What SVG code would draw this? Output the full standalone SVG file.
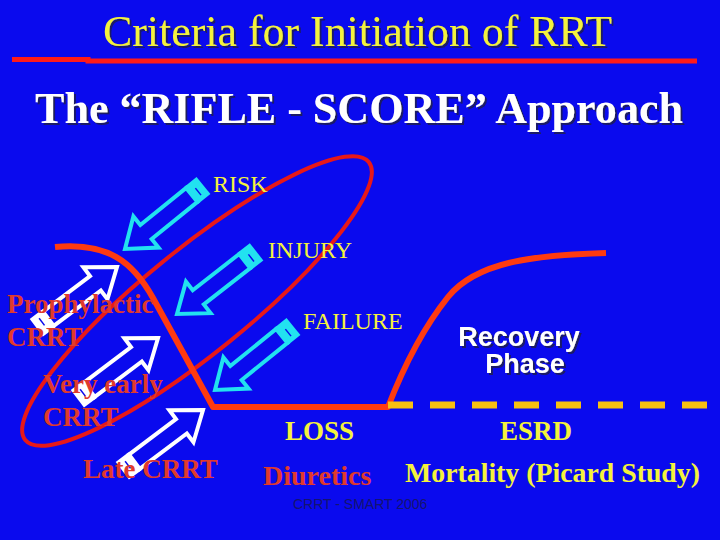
<svg xmlns="http://www.w3.org/2000/svg" xmlns:xlink="http://www.w3.org/1999/xlink" width="720" height="540" viewBox="0 0 720 540">
  <style>
    .serif { font-family: "Liberation Serif", "Times New Roman", serif; }
    .sans { font-family: "Liberation Sans", Arial, sans-serif; }
    .yl { fill: #F4F23C; }
    .rd { fill: #E03A2C; font-weight: bold; }
    .lbl { font-size: 24px; }
    .big { font-size: 27px; font-weight: bold; }
  </style>
  <defs>
    <filter id="shadow" x="-5%" y="-20%" width="115%" height="150%">
      <feFlood flood-color="#1A1A66" result="c"/>
      <feComposite in="c" in2="SourceAlpha" operator="in" result="s"/>
      <feOffset in="s" dx="2" dy="2" result="o"/>
      <feMerge><feMergeNode in="o"/><feMergeNode in="SourceGraphic"/></feMerge>
    </filter>
    <g id="arrowC">
      <path d="M-86,-9 L-27,-9 L-27,-20 L0,0 L-27,20 L-27,9 L-86,9 Z" fill="none" stroke="#22E2F0" stroke-width="4" stroke-linejoin="miter"/>
      <rect x="-101" y="-11" width="16" height="22" fill="#22E2F0"/>
      <line x1="-93" y1="-6" x2="-93" y2="3" stroke="#0A0AEE" stroke-width="1.5"/>
    </g>
    <g id="arrowW">
      <path d="M-86,-9 L-27,-9 L-27,-20 L0,0 L-27,20 L-27,9 L-86,9 Z" fill="none" stroke="#FFFFFF" stroke-width="4" stroke-linejoin="miter"/>
      <rect x="-101" y="-11" width="16" height="22" fill="#FFFFFF"/>
      <line x1="-93" y1="-6" x2="-93" y2="3" stroke="#0A0AEE" stroke-width="1.5"/>
    </g>
  </defs>

  <rect x="0" y="0" width="720" height="540" fill="#0A0AEE"/>

  <g id="title">
    <text x="103" y="46" class="serif yl" font-size="44" textLength="509" lengthAdjust="spacingAndGlyphs" filter="url(#shadow)">Criteria for Initiation of RRT</text>
    <path d="M12,59.5 L88,59.5 L88,61 L697,61" fill="none" stroke="#FF1A1A" stroke-width="5"/>
  </g>

  <g id="subtitle">
    <text x="35" y="123" class="serif" fill="#FFFFFF" font-size="44" font-weight="bold" textLength="648" lengthAdjust="spacingAndGlyphs" filter="url(#shadow)">The “RIFLE - SCORE” Approach</text>
  </g>

  <g id="connectors">
    <ellipse cx="197" cy="301" rx="221" ry="52" transform="rotate(-39 197 301)" fill="none" stroke="#E81818" stroke-width="4"/>
    <path d="M55,247 C108,242 133,262 153,298 L213,407 L388,407 C400,376 420,332 448,297 C478,260 540,255 606,253" fill="none" stroke="#FF3A10" stroke-width="6" stroke-linejoin="round"/>
    <line x1="388" y1="405" x2="720" y2="405" stroke="#F8C010" stroke-width="7" stroke-dasharray="25 17"/>
  </g>

  <g id="arrows">
    <use xlink:href="#arrowC" transform="translate(125,249) rotate(141)"/>
    <use xlink:href="#arrowC" transform="translate(177,314) rotate(142)"/>
    <use xlink:href="#arrowC" transform="translate(215,390) rotate(141)"/>
    <use xlink:href="#arrowW" transform="translate(117,267) rotate(-37)"/>
    <use xlink:href="#arrowW" transform="translate(158,338) rotate(-37)"/>
    <use xlink:href="#arrowW" transform="translate(203,410) rotate(-37)"/>
  </g>

  <g id="risk"><text x="213" y="192" class="serif yl lbl">RISK</text></g>
  <g id="injury"><text x="268" y="258" class="serif yl lbl">INJURY</text></g>
  <g id="failure"><text x="303" y="329" class="serif yl lbl">FAILURE</text></g>
  <g id="loss"><text x="285" y="440" class="serif yl big">LOSS</text></g>
  <g id="esrd"><text x="500" y="440" class="serif yl big">ESRD</text></g>

  <g id="recovery" filter="url(#shadow)">
    <text x="519" y="346" class="sans" fill="#FFFFFF" font-size="27" font-weight="bold" text-anchor="middle">Recovery</text>
    <text x="525" y="373" class="sans" fill="#FFFFFF" font-size="27" font-weight="bold" text-anchor="middle">Phase</text>
  </g>

  <g id="prophylactic">
    <text x="7" y="313" class="serif rd" font-size="27">Prophylactic</text>
    <text x="7" y="346" class="serif rd" font-size="27">CRRT</text>
  </g>
  <g id="very-early">
    <text x="43" y="393" class="serif rd" font-size="27">Very early</text>
    <text x="43" y="426" class="serif rd" font-size="27">CRRT</text>
  </g>
  <g id="late">
    <text x="83" y="478" class="serif rd" font-size="27">Late CRRT</text>
  </g>
  <g id="diuretics">
    <text x="263" y="485" class="serif rd" font-size="28">Diuretics</text>
  </g>
  <g id="mortality">
    <text x="405" y="482" class="serif yl" font-size="28" font-weight="bold" textLength="295" lengthAdjust="spacingAndGlyphs">Mortality (Picard Study)</text>
  </g>
  <g id="footer">
    <text x="293" y="509" class="sans" fill="#141470" font-size="14">CRRT - SMART 2006</text>
  </g>
</svg>
